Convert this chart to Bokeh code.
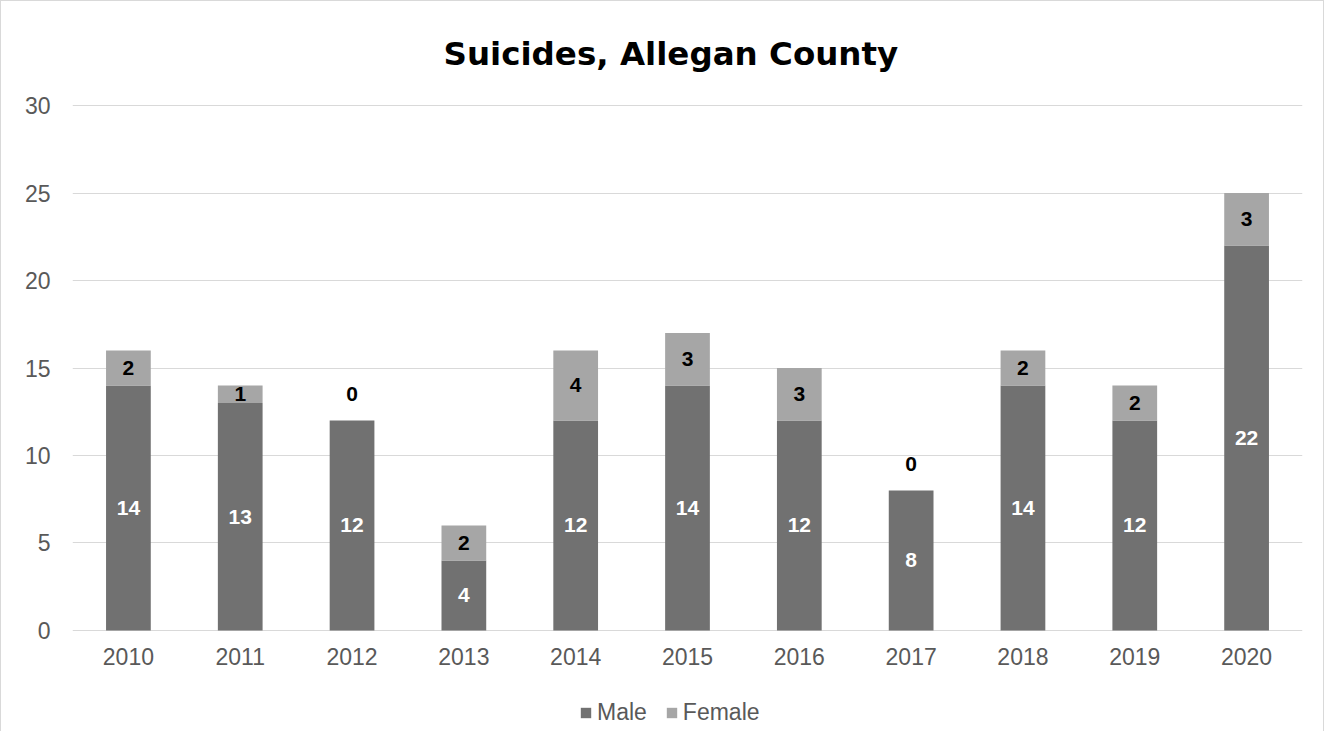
from bokeh.plotting import figure
from bokeh.layouts import column
from bokeh.models import ColumnDataSource, Legend, LegendItem, FactorRange, Range1d
from bokeh.core.properties import value
from bokeh.embed import file_html
from bokeh.resources import INLINE

years = ["2010", "2011", "2012", "2013", "2014", "2015", "2016", "2017", "2018", "2019", "2020"]
male = [14, 13, 12, 4, 12, 14, 12, 8, 14, 12, 22]
female = [2, 1, 0, 2, 4, 3, 3, 0, 2, 2, 3]
y_ticks = [0, 5, 10, 15, 20, 25, 30]

MALE_C = "#717171"
FEMALE_C = "#a6a6a6"
TXT = "#595959"

W = 1322
p = figure(x_range=FactorRange(factors=years), y_range=Range1d(-0.06, 30.06),
           width=W, height=690, output_backend="svg", toolbar_location=None,
           min_border_left=71, min_border_right=21, min_border_top=103, min_border_bottom=60)

src = ColumnDataSource(dict(year=years, Male=male, Female=female))
rs = p.vbar_stack(["Male", "Female"], x="year", width=0.4, source=src,
                  color=[MALE_C, FEMALE_C], line_color=None)

# data labels
male_lab = ColumnDataSource(dict(x=years, y=[m / 2 for m in male], t=[str(m) for m in male]))
p.text(x="x", y="y", text="t", source=male_lab, text_color="white",
       text_font=value("Liberation Sans"), text_font_style="bold", text_font_size="21px",
       text_align="center", text_baseline="middle")
fy = []
for m, f in zip(male, female):
    fy.append(m + f / 2 if f > 0 else m + 1.5)
fem_lab = ColumnDataSource(dict(x=years, y=fy, t=[str(f) for f in female]))
p.text(x="x", y="y", text="t", source=fem_lab, text_color="black",
       text_font=value("Liberation Sans"), text_font_style="bold", text_font_size="21px",
       text_align="center", text_baseline="middle")

# axes
p.yaxis.ticker = y_ticks
for ax in (p.xaxis[0], p.yaxis[0]):
    ax.axis_line_color = None
    ax.major_tick_line_color = None
    ax.minor_tick_line_color = None
    ax.major_tick_out = 0
    ax.major_tick_in = 0
    ax.major_label_text_font = "Liberation Sans"
    ax.major_label_text_font_size = "23px"
    ax.major_label_text_color = TXT
p.xaxis.major_label_standoff = 16
p.yaxis.major_label_standoff = 22

p.xgrid.grid_line_color = None
p.ygrid.grid_line_color = "#d9d9d9"
p.ygrid.grid_line_width = 1
p.outline_line_color = None

p.title.text = "Suicides, Allegan County"
p.title.align = "left"
p.title.offset = 371
p.title.text_font = "DejaVu Sans"
p.title.text_font_style = "bold"
p.title.text_font_size = "32.5px"
p.title.text_color = "black"
p.title.standoff = 63

# legend strip below the chart
lg = figure(width=W, height=40, output_backend="svg", toolbar_location=None,
            x_range=Range1d(0, 1), y_range=Range1d(0, 1),
            x_axis_location=None, y_axis_location=None, min_border=0)
lg.grid.grid_line_color = None
lg.outline_line_color = None
r_m = lg.vbar(x=[-5], top=[-5], width=0.4, color=MALE_C, line_color=None)
r_f = lg.vbar(x=[-5], top=[-5], width=0.4, color=FEMALE_C, line_color=None)

legend = Legend(items=[LegendItem(label="Male", renderers=[r_m]),
                       LegendItem(label="Female", renderers=[r_f])],
                orientation="horizontal", location=(507, 5))
legend.glyph_width = 13
legend.glyph_height = 13
legend.label_standoff = 5
legend.spacing = 18
legend.label_text_font = "Liberation Sans"
legend.label_text_font_size = "23px"
legend.label_text_color = TXT
legend.border_line_color = None
legend.background_fill_alpha = 0
legend.margin = 0
legend.padding = 0
lg.add_layout(legend, "center")

layout = column(p, lg, spacing=0)
layout.styles = {"border-top": "1px solid #d9d9d9", "border-left": "1px solid #d9d9d9",
                 "border-right": "1px solid #d9d9d9"}

open("out.html", "w").write(file_html(layout, INLINE))
